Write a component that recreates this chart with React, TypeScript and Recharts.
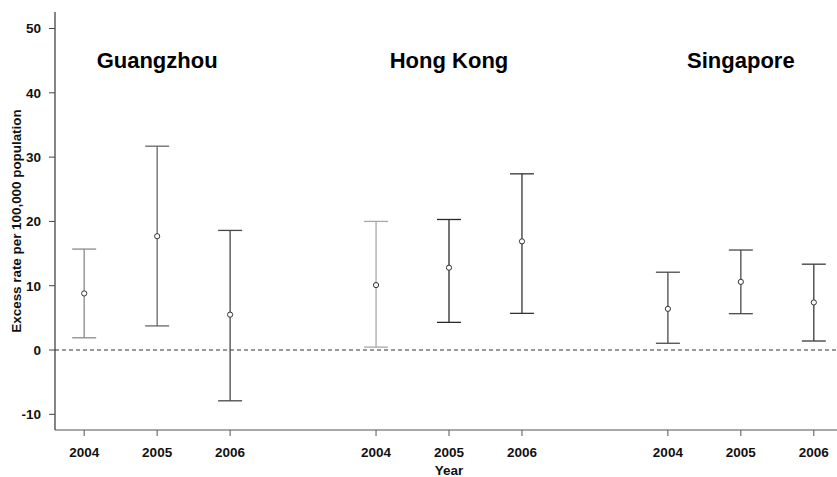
import React from 'react';
import {
  ComposedChart,
  Scatter,
  ErrorBar,
  XAxis,
  YAxis,
  ReferenceLine,
  ReferenceDot,
} from 'recharts';

// values (excess rate per 100,000 population)
const cities = ['Guangzhou', 'Hong Kong', 'Singapore'];
const years = ['2004', '2005', '2006'];
const estimates = [8.8, 17.7, 5.5, 10.1, 12.8, 16.9, 6.4, 10.6, 7.4];
const lowerBounds = [1.9, 3.75, -7.9, 0.45, 4.3, 5.7, 1.05, 5.65, 1.4];
const upperBounds = [15.7, 31.7, 18.6, 20.0, 20.3, 27.4, 12.1, 15.55, 13.35];
const yTicks = [-10, 0, 10, 20, 30, 40, 50];

// line shade per bar, as in the original print
const shades = ['#8a8a8a', '#666', '#474747', '#a8a8a8', '#2a2a2a', '#333', '#4a4a4a', '#4a4a4a', '#3a3a3a'];

const FONT = '"Liberation Sans", Arial, Helvetica, sans-serif';

// city i, year j sits at slot i*4 + j + 1 (gap of one slot between cities)
const points = estimates.map((est, idx) => {
  const city = Math.floor(idx / years.length);
  const year = idx % years.length;
  return {
    x: city * 4 + year + 1,
    y: est,
    err: [est - lowerBounds[idx], upperBounds[idx] - est],
    year: years[year],
  };
});

const xTicks = points.map((p) => p.x);
const yearByX: Record<number, string> = {};
points.forEach((p) => {
  yearByX[p.x] = p.year;
});

const labelSlots = cities.map((c, i) => ({ name: c, x: i * 4 + 2 }));

const tickStyle = { fill: '#111', fontSize: 13.5, fontWeight: 700, fontFamily: FONT };

const Dot = (props: any) => {
  const { cx, cy } = props;
  return <circle cx={cx} cy={cy} r={2.6} fill="#fff" stroke="#333" strokeWidth={1} />;
};

export default function App() {
  return (
    <div style={{ position: 'absolute', left: 0, top: 0, width: 837, height: 477, overflow: 'hidden', background: '#fff' }}>
      <ComposedChart width={845} height={477} margin={{ top: 12, right: 2, bottom: 0, left: 0 }}>
        <XAxis
          xAxisId="top"
          orientation="top"
          type="number"
          dataKey="x"
          domain={[0.6, 11.4]}
          height={0}
          tick={false}
          tickLine={false}
          axisLine={{ stroke: '#000', strokeWidth: 1.2 }}
        />
        <XAxis
          type="number"
          dataKey="x"
          domain={[0.6, 11.4]}
          ticks={xTicks}
          interval={0}
          tickFormatter={(v: number) => yearByX[v] ?? ''}
          height={47}
          tickSize={6}
          tickMargin={11}
          tick={tickStyle}
          tickLine={{ stroke: '#555' }}
          axisLine={{ stroke: '#555', strokeWidth: 1.2 }}
          allowDataOverflow
          label={{
            value: 'Year',
            position: 'insideBottom',
            offset: 2,
            style: { fill: '#111', fontSize: 13.5, fontWeight: 700, fontFamily: FONT },
          }}
        />
        <YAxis
          type="number"
          domain={[-12.44, 52.57]}
          ticks={yTicks}
          width={55}
          tickSize={6}
          tickMargin={8}
          tick={tickStyle}
          tickLine={{ stroke: '#444' }}
          axisLine={{ stroke: '#333', strokeWidth: 1.2 }}
          allowDataOverflow
          label={{
            value: 'Excess rate per 100,000 population',
            angle: -90,
            position: 'center',
            dx: -11,
            dy: 0,
            style: { fill: '#111', fontSize: 13.4, fontWeight: 700, fontFamily: FONT, textAnchor: 'middle' },
          }}
        />
        <ReferenceLine y={0} stroke="#333" strokeDasharray="4 3" strokeWidth={1} />
        {labelSlots.map((c) => (
          <ReferenceDot
            key={c.name}
            x={c.x}
            y={45}
            r={0}
            fill="none"
            stroke="none"
            label={{
              value: c.name,
              position: 'center',
              style: { fill: '#000', fontSize: 22, fontWeight: 700, fontFamily: FONT },
            }}
          />
        ))}
        {points.map((p, i) => (
          <Scatter
            key={i}
            data={[p]}
            dataKey="y"
            shape={<Dot />}
            isAnimationActive={false}
          >
            <ErrorBar
              dataKey="err"
              direction="y"
              width={12}
              stroke={shades[i]}
              strokeWidth={1.3}
              isAnimationActive={false}
            />
          </Scatter>
        ))}
      </ComposedChart>
    </div>
  );
}
